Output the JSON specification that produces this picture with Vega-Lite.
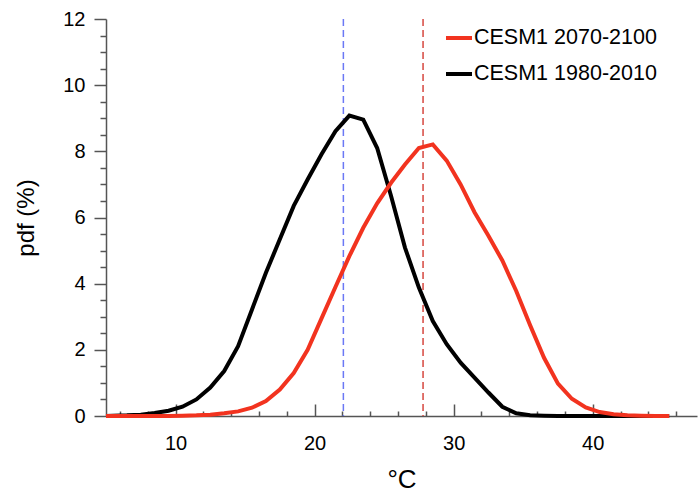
{
  "$schema": "https://vega.github.io/schema/vega-lite/v6.json",
  "width": 591,
  "height": 397,
  "autosize": "none",
  "padding": {"left": 106, "top": 19, "right": 1, "bottom": 80},
  "config": {
    "view": {"stroke": null},
    "font": "Liberation Sans",
    "axis": {"grid": false, "domainColor": "#555555", "tickColor": "#555555", "domainWidth": 1.5, "tickWidth": 1.5, "labelColor": "#000000", "titleColor": "#000000", "labelFontSize": 20, "titleFontWeight": "normal", "labelOverlap": false, "labelFlush": false},
    "axisX": {
      "values": [6, 8, 10, 12, 14, 16, 18, 20, 22, 24, 26, 28, 30, 32, 34, 36, 38, 40, 42, 44, 46],
      "labelExpr": "datum.value % 10 === 0 ? '' + datum.value : ''",
      "labelOverlap": false, "labelFlush": false,
      "tickSize": {"condition": {"test": "datum.value % 10 === 0", "value": -12}, "value": -5},
      "labelPadding": 29, "titleFontSize": 26, "titlePadding": 6
    }
  },
  "datasets": {
    "pdf": [
      {"t": 5.0, "pdf": 0, "series": "CESM1 1980-2010"},
      {"t": 5.5, "pdf": 0.01, "series": "CESM1 1980-2010"},
      {"t": 6.5, "pdf": 0.02, "series": "CESM1 1980-2010"},
      {"t": 7.5, "pdf": 0.04, "series": "CESM1 1980-2010"},
      {"t": 8.5, "pdf": 0.09, "series": "CESM1 1980-2010"},
      {"t": 9.5, "pdf": 0.16, "series": "CESM1 1980-2010"},
      {"t": 10.5, "pdf": 0.28, "series": "CESM1 1980-2010"},
      {"t": 11.5, "pdf": 0.5, "series": "CESM1 1980-2010"},
      {"t": 12.5, "pdf": 0.86, "series": "CESM1 1980-2010"},
      {"t": 13.5, "pdf": 1.36, "series": "CESM1 1980-2010"},
      {"t": 14.5, "pdf": 2.11, "series": "CESM1 1980-2010"},
      {"t": 15.5, "pdf": 3.22, "series": "CESM1 1980-2010"},
      {"t": 16.5, "pdf": 4.33, "series": "CESM1 1980-2010"},
      {"t": 17.5, "pdf": 5.34, "series": "CESM1 1980-2010"},
      {"t": 18.5, "pdf": 6.35, "series": "CESM1 1980-2010"},
      {"t": 19.5, "pdf": 7.15, "series": "CESM1 1980-2010"},
      {"t": 20.5, "pdf": 7.91, "series": "CESM1 1980-2010"},
      {"t": 21.5, "pdf": 8.61, "series": "CESM1 1980-2010"},
      {"t": 22.5, "pdf": 9.08, "series": "CESM1 1980-2010"},
      {"t": 23.5, "pdf": 8.96, "series": "CESM1 1980-2010"},
      {"t": 24.5, "pdf": 8.1, "series": "CESM1 1980-2010"},
      {"t": 25.5, "pdf": 6.65, "series": "CESM1 1980-2010"},
      {"t": 26.5, "pdf": 5.09, "series": "CESM1 1980-2010"},
      {"t": 27.5, "pdf": 3.88, "series": "CESM1 1980-2010"},
      {"t": 28.5, "pdf": 2.87, "series": "CESM1 1980-2010"},
      {"t": 29.5, "pdf": 2.17, "series": "CESM1 1980-2010"},
      {"t": 30.5, "pdf": 1.61, "series": "CESM1 1980-2010"},
      {"t": 31.5, "pdf": 1.16, "series": "CESM1 1980-2010"},
      {"t": 32.5, "pdf": 0.71, "series": "CESM1 1980-2010"},
      {"t": 33.5, "pdf": 0.28, "series": "CESM1 1980-2010"},
      {"t": 34.5, "pdf": 0.08, "series": "CESM1 1980-2010"},
      {"t": 35.5, "pdf": 0.02, "series": "CESM1 1980-2010"},
      {"t": 36.5, "pdf": 0.01, "series": "CESM1 1980-2010"},
      {"t": 37.5, "pdf": 0, "series": "CESM1 1980-2010"},
      {"t": 38.5, "pdf": 0, "series": "CESM1 1980-2010"},
      {"t": 39.5, "pdf": 0, "series": "CESM1 1980-2010"},
      {"t": 40.5, "pdf": 0, "series": "CESM1 1980-2010"},
      {"t": 41.5, "pdf": 0, "series": "CESM1 1980-2010"},
      {"t": 42.5, "pdf": 0, "series": "CESM1 1980-2010"},
      {"t": 43.5, "pdf": 0, "series": "CESM1 1980-2010"},
      {"t": 44.5, "pdf": 0, "series": "CESM1 1980-2010"},
      {"t": 45.5, "pdf": 0, "series": "CESM1 1980-2010"},
      {"t": 5.0, "pdf": 0, "series": "CESM1 2070-2100"},
      {"t": 5.5, "pdf": 0, "series": "CESM1 2070-2100"},
      {"t": 6.5, "pdf": 0, "series": "CESM1 2070-2100"},
      {"t": 7.5, "pdf": 0, "series": "CESM1 2070-2100"},
      {"t": 8.5, "pdf": 0, "series": "CESM1 2070-2100"},
      {"t": 9.5, "pdf": 0, "series": "CESM1 2070-2100"},
      {"t": 10.5, "pdf": 0.01, "series": "CESM1 2070-2100"},
      {"t": 11.5, "pdf": 0.02, "series": "CESM1 2070-2100"},
      {"t": 12.5, "pdf": 0.04, "series": "CESM1 2070-2100"},
      {"t": 13.5, "pdf": 0.08, "series": "CESM1 2070-2100"},
      {"t": 14.5, "pdf": 0.14, "series": "CESM1 2070-2100"},
      {"t": 15.5, "pdf": 0.25, "series": "CESM1 2070-2100"},
      {"t": 16.5, "pdf": 0.45, "series": "CESM1 2070-2100"},
      {"t": 17.5, "pdf": 0.8, "series": "CESM1 2070-2100"},
      {"t": 18.5, "pdf": 1.3, "series": "CESM1 2070-2100"},
      {"t": 19.5, "pdf": 2.0, "series": "CESM1 2070-2100"},
      {"t": 20.5, "pdf": 2.95, "series": "CESM1 2070-2100"},
      {"t": 21.5, "pdf": 3.9, "series": "CESM1 2070-2100"},
      {"t": 22.5, "pdf": 4.83, "series": "CESM1 2070-2100"},
      {"t": 23.5, "pdf": 5.69, "series": "CESM1 2070-2100"},
      {"t": 24.5, "pdf": 6.43, "series": "CESM1 2070-2100"},
      {"t": 25.5, "pdf": 7.05, "series": "CESM1 2070-2100"},
      {"t": 26.5, "pdf": 7.6, "series": "CESM1 2070-2100"},
      {"t": 27.5, "pdf": 8.1, "series": "CESM1 2070-2100"},
      {"t": 28.5, "pdf": 8.21, "series": "CESM1 2070-2100"},
      {"t": 29.5, "pdf": 7.72, "series": "CESM1 2070-2100"},
      {"t": 30.5, "pdf": 7.0, "series": "CESM1 2070-2100"},
      {"t": 31.5, "pdf": 6.16, "series": "CESM1 2070-2100"},
      {"t": 32.5, "pdf": 5.45, "series": "CESM1 2070-2100"},
      {"t": 33.5, "pdf": 4.7, "series": "CESM1 2070-2100"},
      {"t": 34.5, "pdf": 3.78, "series": "CESM1 2070-2100"},
      {"t": 35.5, "pdf": 2.74, "series": "CESM1 2070-2100"},
      {"t": 36.5, "pdf": 1.76, "series": "CESM1 2070-2100"},
      {"t": 37.5, "pdf": 0.98, "series": "CESM1 2070-2100"},
      {"t": 38.5, "pdf": 0.52, "series": "CESM1 2070-2100"},
      {"t": 39.5, "pdf": 0.26, "series": "CESM1 2070-2100"},
      {"t": 40.5, "pdf": 0.12, "series": "CESM1 2070-2100"},
      {"t": 41.5, "pdf": 0.05, "series": "CESM1 2070-2100"},
      {"t": 42.5, "pdf": 0.02, "series": "CESM1 2070-2100"},
      {"t": 43.5, "pdf": 0.01, "series": "CESM1 2070-2100"},
      {"t": 44.5, "pdf": 0, "series": "CESM1 2070-2100"},
      {"t": 45.5, "pdf": 0, "series": "CESM1 2070-2100"}
    ],
    "means": [
      {"t": 22.07, "series": "CESM1 1980-2010"},
      {"t": 27.8, "series": "CESM1 2070-2100"}
    ]
  },
  "layer": [
    {
      "data": {"name": "means"},
      "transform": [{"filter": "datum.series === 'CESM1 1980-2010'"}],
      "mark": {"type": "rule", "stroke": "#6b78f5", "strokeDash": [7, 4], "strokeWidth": 1.5},
      "encoding": {"x": {"field": "t", "type": "quantitative", "title": "°C"}}
    },
    {
      "data": {"name": "means"},
      "transform": [{"filter": "datum.series === 'CESM1 2070-2100'"}],
      "mark": {"type": "rule", "stroke": "#d6473f", "strokeDash": [7, 4], "strokeWidth": 1.5},
      "encoding": {"x": {"field": "t", "type": "quantitative", "title": "°C"}}
    },
    {
      "data": {"name": "pdf"},
      "mark": {"type": "line", "strokeWidth": 4},
      "encoding": {
        "x": {
          "field": "t", "type": "quantitative", "title": "°C",
          "scale": {"domain": [5, 47.5], "nice": false, "zero": false}
        },
        "y": {
          "field": "pdf", "type": "quantitative",
          "scale": {"domain": [0, 12], "nice": false},
          "axis": {
            "title": "pdf (%)", "titleFontSize": 24, "titlePadding": 24,
            "values": [0, 0.5, 1, 1.5, 2, 2.5, 3, 3.5, 4, 4.5, 5, 5.5, 6, 6.5, 7, 7.5, 8, 8.5, 9, 9.5, 10, 10.5, 11, 11.5, 12],
            "labelExpr": "datum.value % 2 === 0 ? '' + datum.value : ''",
            "labelOverlap": false,
            "tickSize": {"condition": {"test": "datum.value % 2 === 0", "value": 12}, "value": 6},
            "labelPadding": 9
          }
        },
        "color": {
          "field": "series", "type": "nominal",
          "scale": {"domain": ["CESM1 2070-2100", "CESM1 1980-2010"], "range": ["#f2331f", "#000000"]},
          "legend": {
            "orient": "none", "legendX": 338, "legendY": 4, "title": null,
            "symbolType": "stroke", "symbolStrokeWidth": 4, "symbolSize": 676,
            "labelFontSize": 21.5, "labelOffset": 0, "rowPadding": 10, "padding": 0,
            "labelColor": "#000000", "labelLimit": 400
          }
        }
      }
    }
  ]
}
